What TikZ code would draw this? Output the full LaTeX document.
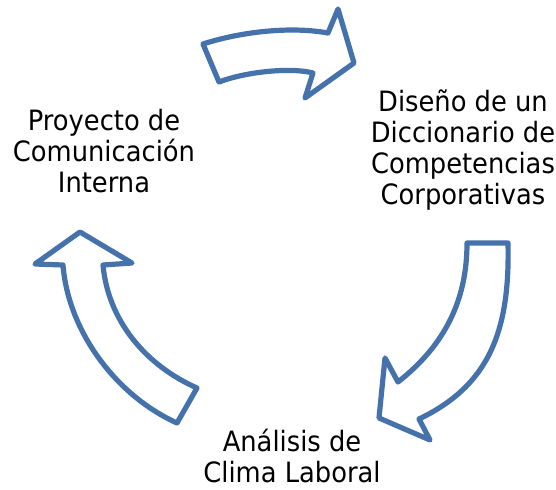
\documentclass[tikz,border=0pt]{standalone}
\usepackage{fontspec}
\setmainfont{DejaVu Sans}[FakeStretch=0.92]
\usepackage{tikz}
\definecolor{cycleblue}{RGB}{70,114,172}

\begin{document}
\begin{tikzpicture}[x=0.75pt,y=-0.75pt]
\tikzset{cyclearrow/.style={draw=cycleblue,fill=white,line width=3.9pt,line join=round}}
\useasboundingbox (0,0) rectangle (556,489);

\begin{scope}[every node/.style={align=center,inner sep=0pt,font=\fontsize{21}{23.4}\selectfont}]
    \node (P) at (104,151) {Proyecto de\\Comunicación\\Interna};
    \node (D) at (463,150) {Diseño de un\\Diccionario de\\Competencias\\Corporativas};
    \node (C) at (292,456) {Análisis de\\Clima Laboral};
\end{scope}

% curved block arrows of the cycle
\path [cyclearrow] (203,44) .. controls (240,32) and (290,26) .. (328,33)
    -- (338,9) -- (354,63) -- (305,98) -- (313,73)
    .. controls (290,67) and (245,72) .. (219,82) -- cycle;
\path [cyclearrow] (467,243) -- (508,243) .. controls (510,330) and (490,385) .. (419,419)
    -- (430,440) -- (379,418) -- (385,358) -- (398,382)
    .. controls (445,345) and (467,300) .. (467,243) -- cycle;
\path [cyclearrow] (197,388) .. controls (145,365) and (108,320) .. (103,265)
    -- (132,263) -- (80,232) -- (35,264) -- (63,265)
    .. controls (68,330) and (115,395) .. (177,423) -- cycle;
\end{tikzpicture}
\end{document}
